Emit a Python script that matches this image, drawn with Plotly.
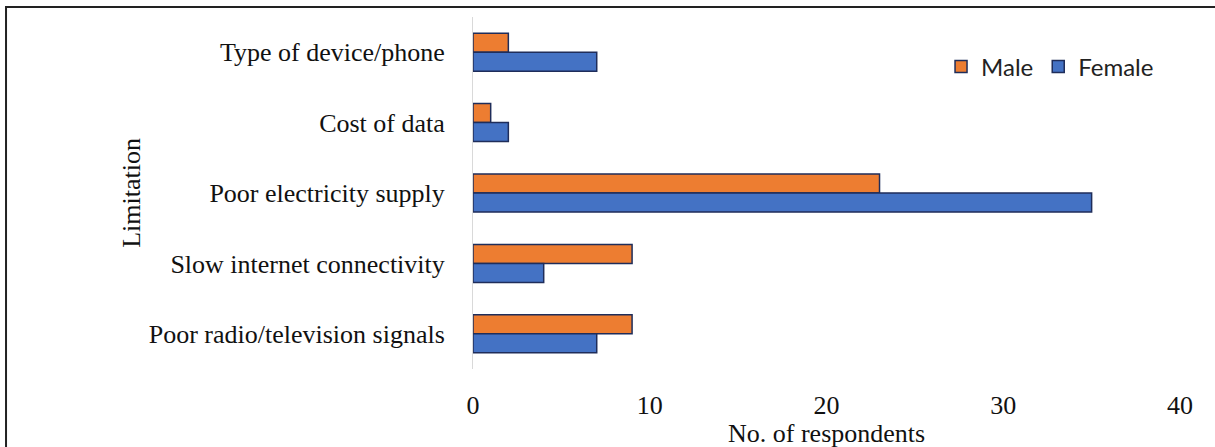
import plotly.graph_objects as go

# Limitations reported, listed top to bottom
categories = [
    "Type of device/phone",
    "Cost of data",
    "Poor electricity supply",
    "Slow internet connectivity",
    "Poor radio/television signals",
]
male = [2, 1, 23, 9, 9]
female = [7, 2, 35, 4, 7]
x_ticks = [0, 10, 20, 30, 40]

serif = "Liberation Serif, Times New Roman, serif"
outline = dict(color="#1f2d5a", width=1.5)

fig = go.Figure()
fig.add_trace(go.Bar(
    y=categories, x=male, name="Male", orientation="h",
    marker=dict(color="#ED7D31", line=outline),
))
fig.add_trace(go.Bar(
    y=categories, x=female, name="Female", orientation="h",
    marker=dict(color="#4472C4", line=outline),
))

fig.update_layout(
    width=1215, height=447,
    margin=dict(l=473, r=35, t=17, b=78),
    paper_bgcolor="white", plot_bgcolor="white",
    barmode="group", bargap=0.46, bargroupgap=0,
    showlegend=True,
    legend=dict(
        orientation="h", x=0.662, y=0.922, xanchor="left", yanchor="top",
        font=dict(family="Lato, Open Sans, sans-serif", size=24, color="#222"),
        itemwidth=30, bgcolor="rgba(0,0,0,0)",
    ),
    xaxis=dict(
        range=[0, 40], tickvals=x_ticks, showgrid=False, zeroline=False,
        showline=False, ticks="outside", ticklen=13, tickcolor="rgba(0,0,0,0)",
        tickfont=dict(family=serif, size=26, color="#111"),
    ),
    yaxis=dict(
        categoryorder="array", categoryarray=categories, autorange="reversed",
        showgrid=False, zeroline=False, showline=True, linecolor="#d9d9d9",
        linewidth=1, ticks="outside", ticklen=22, tickcolor="rgba(0,0,0,0)",
        tickfont=dict(family=serif, size=26, color="#111"),
    ),
    annotations=[
        dict(text="No. of respondents", xref="paper", yref="paper",
             x=0.5, y=-0.183, xanchor="center", yanchor="middle",
             showarrow=False, font=dict(family=serif, size=26, color="#111")),
        dict(text="Limitation", xref="paper", yref="paper",
             x=-0.484, y=0.5, xanchor="center", yanchor="middle", textangle=-90,
             showarrow=False, font=dict(family=serif, size=26, color="#111")),
    ],
    shapes=[
        dict(type="rect", xref="paper", yref="paper",
             x0=-0.6605, x1=1.2, y0=-0.5, y1=1.0284,
             line=dict(color="#222", width=2), fillcolor="rgba(0,0,0,0)"),
    ],
)

fig.write_html("out.html")
